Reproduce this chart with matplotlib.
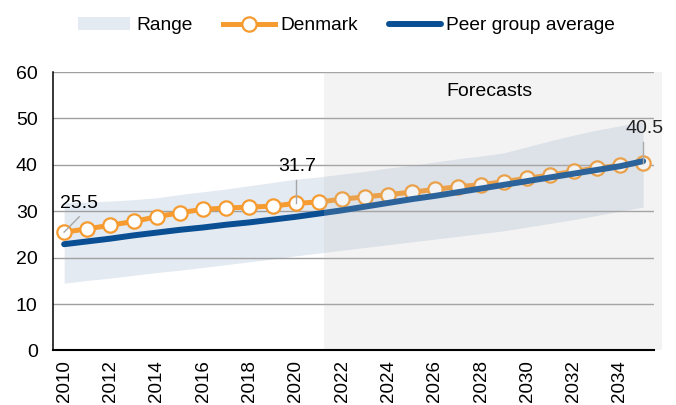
import matplotlib
matplotlib.use("Agg")
import matplotlib.pyplot as plt

plt.rcParams['font.family'] = ['Liberation Sans', 'DejaVu Sans']

# Data
years = list(range(2010, 2036))
denmark = [25.5, 26.2, 27.0, 27.8, 28.8, 29.7, 30.4, 30.7, 30.9, 31.1, 31.7,
           32.0, 32.6, 33.1, 33.6, 34.1, 34.7, 35.3, 35.7, 36.4, 37.1, 37.8,
           38.6, 39.3, 39.9, 40.5]
peer_avg = [22.9, 23.5, 24.1, 24.8, 25.4, 26.0, 26.5, 27.1, 27.6, 28.2, 28.8,
            29.5, 30.2, 31.0, 31.8, 32.6, 33.3, 34.1, 34.9, 35.7, 36.5, 37.3,
            38.1, 38.9, 39.7, 40.8]
range_high = [31.8, 32.0, 32.2, 32.5, 32.9, 33.6, 34.2, 34.8, 35.5, 36.2, 36.9,
              37.4, 38.0, 38.6, 39.3, 39.9, 40.6, 41.3, 41.9, 42.6, 43.9, 45.2,
              46.4, 47.5, 48.4, 49.3]
range_low = [14.5, 15.1, 15.6, 16.2, 16.8, 17.3, 17.9, 18.5, 19.1, 19.7, 20.4,
             21.0, 21.6, 22.2, 22.8, 23.4, 24.0, 24.6, 25.2, 25.8, 26.6, 27.4,
             28.2, 29.1, 30.0, 30.9]
forecast_start = 2021.2
forecast_end = 2035.8
labelled_years = [2010, 2020, 2035]

orange = '#F59B30'
blue = '#0A4F93'

fig = plt.figure(figsize=(6.76, 4.05), dpi=100)
ax = fig.add_axes([0.0784, 0.1346, 0.8891, 0.6876])

ax.fill_between(years, range_low, range_high, color='#E4EAF2', lw=0,
                zorder=0.2, label='Range')
ax.plot(years, denmark, color=orange, lw=3.6, marker='o', ms=10.3,
        mfc='white', mec=orange, mew=1.6, zorder=2, label='Denmark')
ax.plot(years, peer_avg, color=blue, lw=4.3, solid_capstyle='round',
        zorder=3, label='Peer group average')

# forecast shading, drawn on top so the lines look faded
ax.axvspan(forecast_start, forecast_end, color='#bebebe', alpha=0.185, lw=0,
           zorder=4, clip_on=False)
ax.text((forecast_start + 2035.5) / 2, 55.7, 'Forecasts', ha='center',
        va='center', fontsize=14, zorder=6)

# value labels with leader lines
offsets = {2010: (0.65, 6.2, 0.65, 3.3), 2020: (0.05, 8.0, 0.0, 5.0),
           2035: (0.05, 7.3, 0.0, 4.5)}
for yr in labelled_years:
    v = denmark[years.index(yr)]
    dx, dy, lx, ly = offsets[yr]
    ax.plot([yr, yr + lx], [v, v + ly], color='#a6a6a6', lw=1, zorder=3.5)
    ax.text(yr + dx, v + dy, f'{v:.1f}', ha='center', va='center',
            fontsize=14, zorder=5 if yr < 2021 else 3.5)

ax.set_xlim(2009.52, 2035.47)
ax.set_ylim(0, 60)
ax.set_yticks(range(0, 61, 10))
ax.set_xticks(range(2010, 2035, 2))
ax.tick_params(axis='both', length=0, labelsize=14)
ax.tick_params(axis='y', pad=11)
ax.tick_params(axis='x', pad=7, rotation=90, labelsize=13.5)
ax.set_axisbelow(True)
ax.grid(axis='y', color='#a0a0a0', lw=1)
ax.grid(axis='x', visible=False)
for s in ['top', 'right']:
    ax.spines[s].set_visible(False)
ax.spines['left'].set_linewidth(1.1)
ax.spines['bottom'].set_linewidth(1.5)
ax.spines['bottom'].set_zorder(5)

fig.legend(loc='center', bbox_to_anchor=(0.513, 0.937), ncol=3, frameon=False,
           fontsize=13.8, handlelength=2.7, handletextpad=0.3,
           columnspacing=1.6)

fig.savefig('out.png', dpi=100)
